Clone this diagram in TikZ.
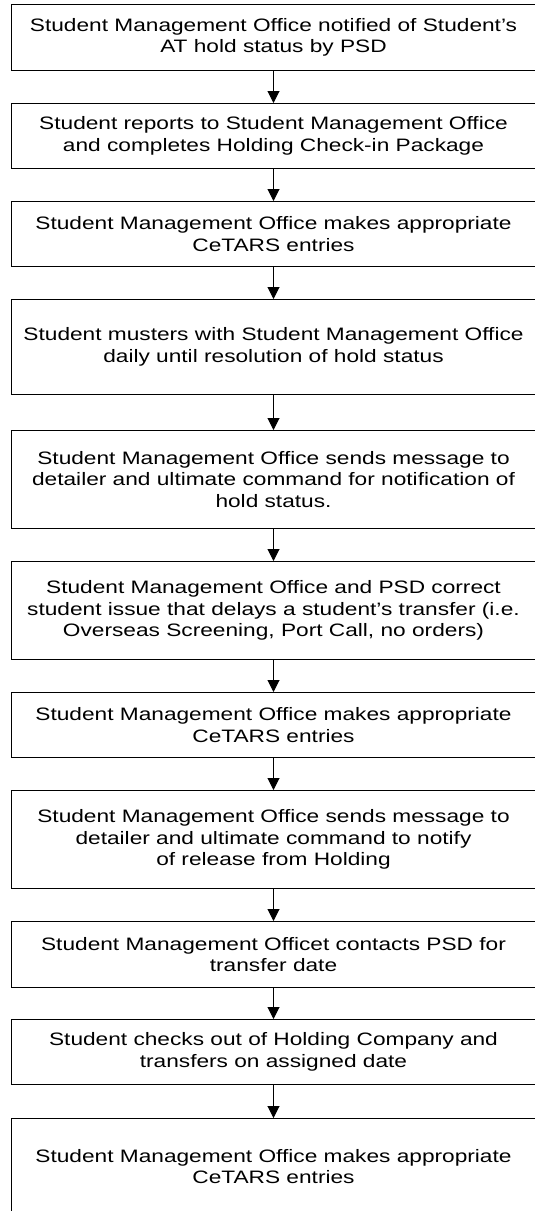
\documentclass[tikz,border=0pt]{standalone}
\usepackage{fontspec}
\setmainfont{Liberation Sans}[FakeStretch=1.26]
\usepackage{tikz}
\usetikzlibrary{arrows.meta}

\tikzset{
  procbox/.style={draw, line width=1pt, anchor=north, minimum width=525pt,
    inner sep=0pt, align=center, font=\fontsize{18}{21.5}\selectfont},
  flowarrow/.style={line width=1pt, -{Triangle[width=12pt,length=12pt]}}
}

\begin{document}
\begin{tikzpicture}[x=1pt,y=-1pt]
                % Frame
                \useasboundingbox (0,0) rectangle (535,1211);
                \clip (0,0) rectangle (535,1211);

                % Process steps
                \node[procbox, minimum height=66pt] (s1) at (273.5,4)
                  {Student Management Office notified of Student’s\\AT hold status by PSD};
                \node[procbox, minimum height=65pt] (s2) at (273.5,103)
                  {Student reports to Student Management Office\\and completes Holding Check-in Package};
                \node[procbox, minimum height=65pt] (s3) at (273.5,201)
                  {Student Management Office makes appropriate\\CeTARS entries};
                \node[procbox, minimum height=95pt] (s4) at (273.5,299)
                  {Student musters with Student Management Office\\daily until resolution of hold status};
                \node[procbox, minimum height=98pt] (s5) at (273.5,430)
                  {Student Management Office sends message to\\detailer and ultimate command for notification of\\hold status.};
                \node[procbox, minimum height=98pt] (s6) at (273.5,561)
                  {Student Management Office and PSD correct\\student issue that delays a student’s transfer (i.e.\\Overseas Screening, Port Call, no orders)};
                \node[procbox, minimum height=65pt] (s7) at (273.5,692)
                  {Student Management Office makes appropriate\\CeTARS entries};
                \node[procbox, minimum height=98pt] (s8) at (273.5,790)
                  {Student Management Office sends message to\\detailer and ultimate command to notify\\of release from Holding};
                \node[procbox, minimum height=66pt] (s9) at (273.5,921)
                  {Student Management Officet contacts PSD for\\transfer date};
                \node[procbox, minimum height=65pt] (s10) at (273.5,1019)
                  {Student checks out of Holding Company and\\transfers on assigned date};
                \node[procbox, minimum height=96pt] (s11) at (273.5,1118)
                  {Student Management Office makes appropriate\\CeTARS entries};

                % Arrows
                \foreach \a/\b in {s1/s2,s2/s3,s3/s4,s4/s5,s5/s6,s6/s7,s7/s8,s8/s9,s9/s10,s10/s11} {
                    \draw[flowarrow] (\a) -- (\b);
                }
            \end{tikzpicture}
\end{document}
